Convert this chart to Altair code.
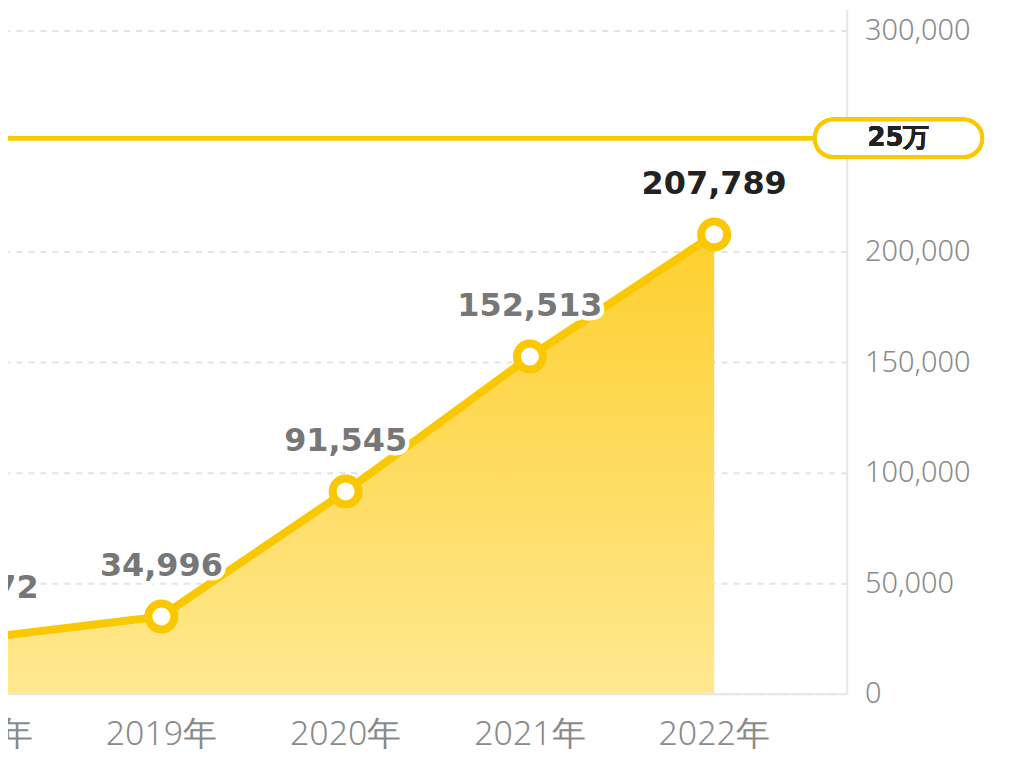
import altair as alt
import pandas as pd

years = [2018, 2019, 2020, 2021, 2022]
values = [24872, 34996, 91545, 152513, 207789]
year_labels = ["2018年", "2019年", "2020年", "2021年", "2022年"]
target_value = 251300
target_label = "25万"
y_ticks = [0, 50000, 100000, 150000, 200000, 300000]

df = pd.DataFrame({"year": years, "value": values, "ylabel": year_labels})

W, H = 842, 687
YELLOW = "#F9C800"
FONT = "Noto Sans"
NUMFONT = "DejaVu Sans"

x_scale = alt.Scale(domain=[2018.1676, 2022.719], nice=False, zero=False)
y_scale = alt.Scale(domain=[0, 309500], nice=False)

base = alt.Chart(df)

x_enc = alt.X("year:Q", scale=x_scale,
              axis=alt.Axis(labels=False, ticks=False, grid=False, title=None,
                            domainColor="#e6e6e6", domainWidth=2))
y_enc = alt.Y("value:Q", scale=y_scale,
              axis=alt.Axis(orient="right", values=y_ticks, format=",d", title=None,
                            ticks=False, labelPadding=18, labelFontSize=29,
                            labelColor="#8a8a8a", labelFont=FONT, labelFontWeight=300,
                            domainColor="#e6e6e6", domainWidth=2,
                            gridColor="#e4e4e4", gridWidth=2, gridDash=[6, 6]))

area = base.mark_area(
    clip=True,
    color=alt.Gradient(
        gradient="linear",
        stops=[alt.GradientStop(color="#FDCF2E", offset=0),
               alt.GradientStop(color="#FFE890", offset=1)],
        x1=0, x2=0, y1=0, y2=1,
    ),
).encode(x=x_enc, y=y_enc)

line = base.mark_line(clip=True, color=YELLOW, strokeWidth=8).encode(x="year:Q", y="value:Q")

target_rule = base.mark_rule(color=YELLOW, strokeWidth=4, clip=False).encode(
    x=alt.value(0), x2=alt.value(812), y=alt.datum(target_value)
)

points = base.mark_point(clip=True, filled=True, fill="white", stroke=YELLOW,
                         strokeWidth=8, size=680, opacity=1, shape="circle").encode(
    x="year:Q", y="value:Q")

halo = base.mark_text(clip=False, font=NUMFONT, fontWeight="bold", fontSize=32,
                      dy=-51, baseline="middle", stroke="white", strokeWidth=9,
                      strokeJoin="round", fill="white").encode(
    x="year:Q", y="value:Q", text=alt.Text("value:Q", format=","))

labels = base.mark_text(clip=False, font=NUMFONT, fontWeight="bold", fontSize=32,
                        dy=-51, baseline="middle").encode(
    x="year:Q", y="value:Q", text=alt.Text("value:Q", format=","),
    color=alt.condition("datum.year == 2022", alt.value("#222222"), alt.value("#777777")))

xlabels = base.mark_text(clip=False, font=FONT, fontSize=34, fontWeight=300,
                         color="#8a8a8a", baseline="middle").encode(
    x="year:Q", y=alt.value(728), text="ylabel:N")

pill = base.mark_rect(clip=False, fill="white", stroke=YELLOW, strokeWidth=4,
                      cornerRadius=20).encode(
    x=alt.value(810), x2=alt.value(978),
    y=alt.datum(target_value + 8500), y2=alt.datum(target_value - 8500))

pill_text = base.mark_text(clip=False, font=NUMFONT, fontWeight="bold", fontSize=26,
                           color="#222222", baseline="middle").encode(
    x=alt.value(894), y=alt.datum(target_value), text=alt.value(target_label))

chart = alt.layer(area, line, target_rule, points, halo, labels, xlabels, pill, pill_text).properties(
    width=W, height=H,
    autosize=alt.AutoSizeParams(type="none"),
    padding={"left": 0, "top": 0, "right": 170, "bottom": 76},
).configure_view(stroke=None)

chart.save("out.html", embed_options={"renderer": "svg", "actions": False})
